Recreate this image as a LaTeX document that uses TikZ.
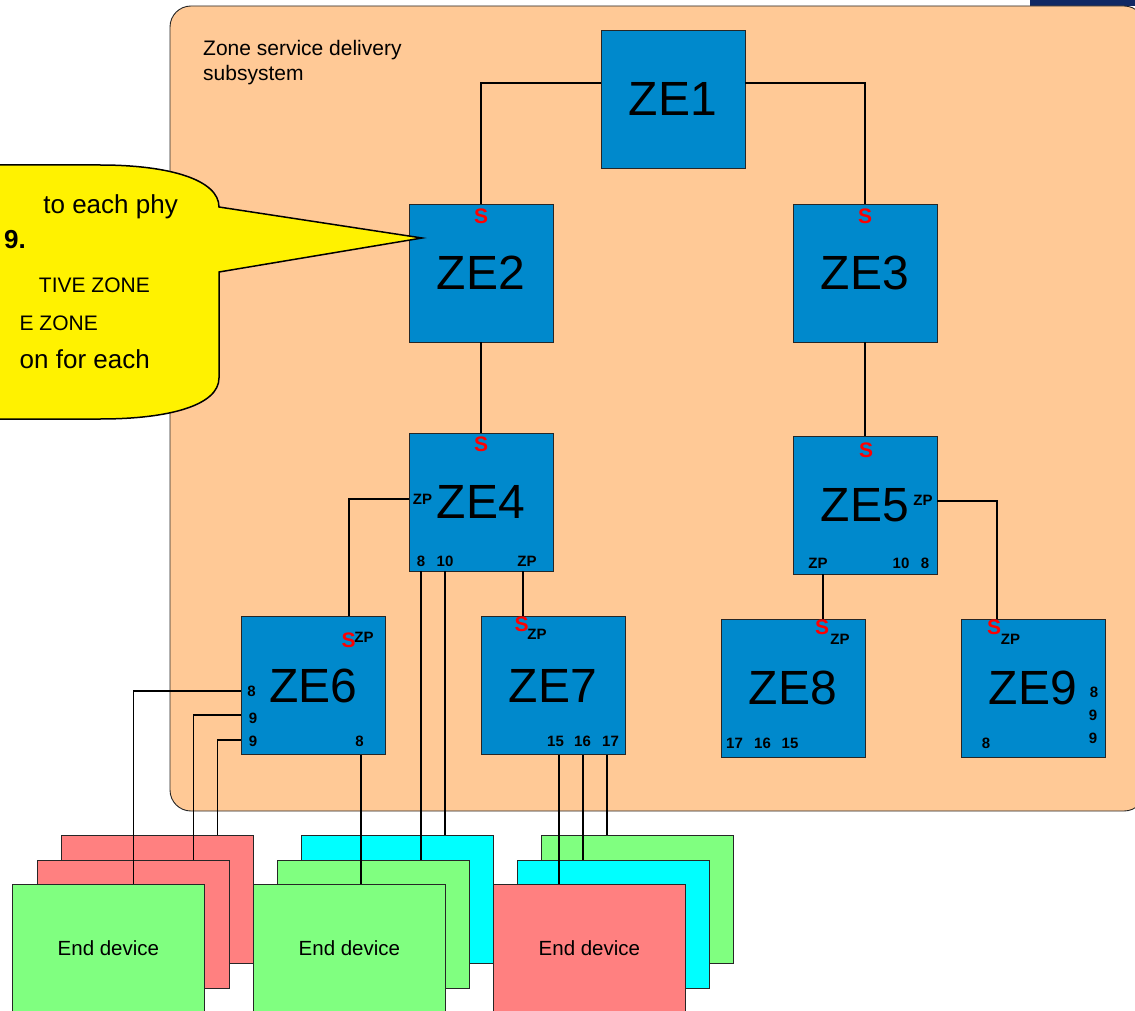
\documentclass[tikz,border=0pt]{standalone}
\usepackage{fontspec}
\setmainfont{Liberation Sans}
\definecolor{zeblue}{RGB}{0,137,204}
\definecolor{zoneorange}{RGB}{255,201,150}
\definecolor{edred}{RGB}{255,128,128}
\definecolor{edgreen}{RGB}{128,255,128}
\definecolor{edcyan}{RGB}{0,255,255}
\definecolor{navyband}{RGB}{16,40,100}
\begin{document}
\begin{tikzpicture}[x=1pt,y=-1pt,
  zebox/.style={draw=black!85, fill=zeblue, line width=0.9pt, minimum width=144pt, minimum height=138pt, inner sep=0pt, font=\fontsize{48}{50}\selectfont},
  edbox/.style={draw=black!85, line width=0.8pt, minimum width=192pt, minimum height=128pt, inner sep=0pt, anchor=north west, font=\fontsize{20.5}{22}\selectfont},
  conn/.style={draw=black, line width=1.3pt},
  slab/.style={text=red, inner sep=0pt, font=\bfseries\fontsize{21}{21}\selectfont},
  plab/.style={text=black, inner sep=0pt, font=\bfseries\fontsize{15}{15}\selectfont},
  ctext/.style={inner sep=0pt, anchor=base east, font=\fontsize{26}{28}\selectfont}
]
\useasboundingbox (0,0) rectangle (1135,1011);
\clip (0,0) rectangle (1135,1011);
\fill[white] (0,0) rectangle (1135,1011);
\fill[navyband] (1030,0) rectangle (1135,6);

% zone subsystem
\draw[fill=zoneorange, draw=black!85, line width=0.9pt, rounded corners=21pt] (170,6) rectangle (1145,811);
\node[anchor=north west, align=left, inner sep=0pt, font=\fontsize{21}{25}\selectfont] (title) at (203,40) {Zone service delivery\\subsystem};

% end devices (back, middle, front)
\node[edbox, fill=edred]   (edb1) at (61,835) {};
\node[edbox, fill=edcyan]  (edb2) at (301,835) {};
\node[edbox, fill=edgreen] (edb3) at (541,835) {};
\node[edbox, fill=edred]   (edm1) at (37,860) {};
\node[edbox, fill=edgreen] (edm2) at (277,860) {};
\node[edbox, fill=edcyan]  (edm3) at (517,860) {};
\node[edbox, fill=edgreen] (edf1) at (12,884) {End device};
\node[edbox, fill=edgreen] (edf2) at (253,884) {End device};
\node[edbox, fill=edred]   (edf3) at (493,884) {End device};

% zone elements
\node[zebox] (ze1) at (673,99) {ZE1};
\node[zebox] (ze2) at (481,273) {ZE2};
\node[zebox] (ze3) at (865,273) {ZE3};
\node[zebox] (ze4) at (481,502) {ZE4};
\node[zebox] (ze5) at (865,505) {ZE5};
\node[zebox] (ze6) at (313.5,685.5) {ZE6};
\node[zebox] (ze7) at (553,685.5) {ZE7};
\node[zebox] (ze8) at (793,688) {ZE8};
\node[zebox] (ze9) at (1033,688) {ZE9};

% connectors
\draw[conn] ([yshift=16pt]ze1.west) -| (ze2.north);
\draw[conn] ([yshift=16pt]ze1.east) -| (ze3.north);
\draw[conn] (ze2.south) -- (ze4.north);
\draw[conn] (ze3.south) -- (ze5.north);
\draw[conn] ([yshift=3pt]ze4.west) -| ([xshift=35.5pt]ze6.north);
\draw[conn] ([xshift=42pt]ze4.south) -- ([xshift=42pt]ze4.south |- ze7.north);
\draw[conn] ([yshift=4pt]ze5.east) -| ([xshift=-36pt]ze9.north);
\draw[conn] ([xshift=-42pt]ze5.south) -- ([xshift=-42pt]ze5.south |- ze8.north);
% to end devices
\draw[conn] ([yshift=-5.5pt]ze6.west) -| ([xshift=25pt]edf1.north);
\draw[conn] ([yshift=-29.5pt]ze6.west) -| ([xshift=60pt]edm1.north);
\draw[conn] ([yshift=-54.5pt]ze6.west) -| ([xshift=60pt]edb1.north);
\draw[conn] ([xshift=47.5pt]ze6.south) -- ([xshift=47.5pt]ze6.south |- edf2.north);
\draw[conn] ([xshift=-60pt]ze4.south) -- ([xshift=-60pt]ze4.south |- edm2.north);
\draw[conn] ([xshift=-36pt]ze4.south) -- ([xshift=-36pt]ze4.south |- edb2.north);
\draw[conn] ([xshift=6pt]ze7.south) -- ([xshift=6pt]ze7.south |- edf3.north);
\draw[conn] ([xshift=30pt]ze7.south) -- ([xshift=30pt]ze7.south |- edm3.north);
\draw[conn] ([xshift=54pt]ze7.south) -- ([xshift=54pt]ze7.south |- edb3.north);

% port labels
\node[slab] (s2) at (481,216) {S};
\node[slab] (s3) at (865,216) {S};
\node[slab] (s4) at (481,444) {S};
\node[slab] (s5) at (866,450) {S};
\node[plab] (zp6) at (364,637) {ZP};
\node[slab] (s6) at (348.5,640) {S};
\node[plab] (zp7) at (537,634) {ZP};
\node[slab] (s7) at (521.5,624.5) {S};
\node[plab] (zp8) at (840,639) {ZP};
\node[slab] (s8) at (822,627) {S};
\node[plab] (zp9) at (1010.5,639) {ZP};
\node[slab] (s9) at (994,627) {S};

\node[plab] (zp4l) at (422.5,499) {ZP};
\node[plab] (n4a) at (421,561) {8};
\node[plab] (n4b) at (445,561) {10};
\node[plab] (zp4b) at (527,561) {ZP};
\node[plab] (zp5r) at (923,500.5) {ZP};
\node[plab] (zp5b) at (818,563.5) {ZP};
\node[plab] (n5a) at (901,563.5) {10};
\node[plab] (n5b) at (925,563.5) {8};
\node[plab] (n6a) at (251.5,691) {8};
\node[plab] (n6b) at (253,718) {9};
\node[plab] (n6c) at (253,741) {9};
\node[plab] (n6d) at (359.5,741) {8};
\node[plab] (n7a) at (555.5,741) {15};
\node[plab] (n7b) at (582.5,741) {16};
\node[plab] (n7c) at (610.5,741) {17};
\node[plab] (n8a) at (734.5,743) {17};
\node[plab] (n8b) at (762.5,743) {16};
\node[plab] (n8c) at (790,743) {15};
\node[plab] (n9a) at (1094,692.5) {8};
\node[plab] (n9b) at (1093,715) {9};
\node[plab] (n9c) at (1093,738.5) {9};
\node[plab] (n9d) at (986,743) {8};

% callout
\draw[fill=yellow, draw=black, line width=1.5pt] (-10,165) -- (100,165)
  .. controls (170,165) and (219,180) .. (219,207) -- (422,238) -- (219,272) -- (219,378)
  .. controls (219,405) and (170,419) .. (100,419) -- (-10,419) -- cycle;
\node[ctext] (c1) at (178,214) {to each phy};
\node[ctext, font=\bfseries\fontsize{26}{28}\selectfont] (c2) at (26,248) {9.};
\node[ctext, font=\fontsize{21}{23}\selectfont] (c3) at (150,292) {TIVE ZONE};
\node[ctext, font=\fontsize{21}{23}\selectfont] (c4) at (98,330) {E ZONE};
\node[ctext] (c5) at (150,368) {on for each};
\end{tikzpicture}
\end{document}
